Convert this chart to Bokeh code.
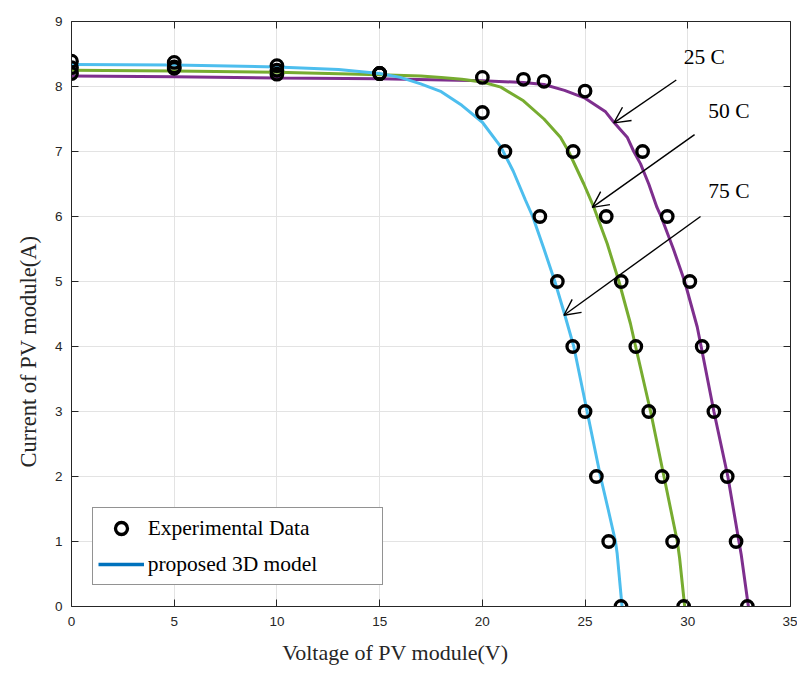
from bokeh.plotting import figure
from bokeh.models import (Range1d, LinearAxis, FixedTicker, Legend, LegendItem,
                          Arrow, OpenHead, Label, Title)
from bokeh.embed import file_html
from bokeh.resources import INLINE

# ---- data ----
x_ticks = [0, 5, 10, 15, 20, 25, 30, 35]
y_ticks = [0, 1, 2, 3, 4, 5, 6, 7, 8, 9]

# model curves (proposed 3D model)
curve_v_25 = [0, 5, 10, 15, 20, 22, 23, 24, 25, 26, 26.4, 27.05, 27.37, 27.7, 28.1, 28.5,
              28.7, 29.3, 29.85, 30.46, 30.65, 31.27, 31.95, 32.49, 32.6, 32.95]
curve_i_25 = [8.16, 8.15, 8.13, 8.12, 8.09, 8.06, 8.03, 7.94, 7.82, 7.61, 7.45, 7.22,
              7.0, 6.81, 6.5, 6.14, 6.0, 5.5, 5.0, 4.3, 4.0, 3.0, 2.0, 1.0, 0.8, 0.0]

curve_v_50 = [0, 5, 10, 15, 17, 18, 19, 20, 20.9, 22.0, 23.0, 23.8, 24.2, 24.94, 25.43,
              25.59, 26.08, 26.65, 27.21, 27.46, 28.19, 28.84, 29.49, 29.6, 29.85]
curve_i_50 = [8.25, 8.24, 8.22, 8.18, 8.16, 8.14, 8.11, 8.07, 7.99, 7.78, 7.5, 7.22, 7.0,
              6.5, 6.14, 6.0, 5.58, 5.0, 4.35, 4.0, 3.0, 2.0, 1.0, 0.75, 0.0]

curve_v_75 = [0, 5, 10, 13, 15, 16, 17, 18, 19, 20, 20.9, 21.5, 22.1, 22.45, 23.0, 23.53,
              24.0, 24.45, 25.1, 25.75, 26.12, 26.48, 26.56, 26.8]
curve_i_75 = [8.34, 8.33, 8.30, 8.26, 8.20, 8.14, 8.04, 7.92, 7.71, 7.45, 7.07, 6.7, 6.25,
              6.0, 5.5, 5.0, 4.5, 4.0, 3.0, 2.0, 1.5, 1.0, 0.82, 0.0]

# experimental data
exp_v_25 = [0, 5, 10, 15, 22, 23, 25, 27.8, 29.0, 30.1, 30.7, 31.27, 31.92, 32.35, 32.9]
exp_i_25 = [8.2, 8.28, 8.19, 8.2, 8.11, 8.08, 7.93, 7, 6, 5, 4, 3, 2, 1, 0]
exp_v_50 = [0, 5, 10, 15, 20, 24.42, 26.03, 26.76, 27.47, 28.1, 28.75, 29.26, 29.8]
exp_i_50 = [8.29, 8.3, 8.25, 8.2, 8.14, 7, 6, 5, 4, 3, 2, 1, 0]
exp_v_75 = [0, 5, 10, 15, 20, 21.1, 22.8, 23.65, 24.4, 25.0, 25.55, 26.15, 26.75]
exp_i_75 = [8.39, 8.37, 8.32, 8.2, 7.6, 7, 6, 5, 4, 3, 2, 1, 0]

# annotations
temp_labels = ["25 C", "50 C", "75 C"]
label_v = [29.8, 31.0, 31.0]
label_i = [8.46, 7.62, 6.39]
arrow_tail_v = [29.44, 30.33, 30.62]
arrow_tail_i = [8.10, 7.26, 6.00]
arrow_head_v = [26.40, 25.35, 23.97]
arrow_head_i = [7.44, 6.14, 4.48]

x_title = "Voltage of PV module(V)"
y_title = "Current of PV module(A)"

# ---- styles ----
PURPLE = "#7E2F8E"
GREEN = "#77AC30"
CYAN = "#4DBEEE"
BLUE = "#0072BD"
AXC = "#262626"
SERIF = "Liberation Serif"
SANS = "Liberation Sans"

p = figure(width=797, height=675, output_backend="svg", toolbar_location=None,
           x_range=Range1d(0, 35), y_range=Range1d(0, 9),
           min_border_left=71, min_border_right=7, min_border_top=21,
           min_border_bottom=69, background_fill_color="white",
           border_fill_color="white", outline_line_color=None)

for ax in (p.xaxis[0], p.yaxis[0]):
    ax.major_tick_in = 7
    ax.major_tick_out = 0
    ax.minor_tick_line_color = None
    ax.axis_line_color = AXC
    ax.major_tick_line_color = AXC
    ax.major_label_text_color = AXC
    ax.major_label_text_font = SANS
    ax.major_label_text_font_size = "13.5px"

p.xaxis[0].ticker = FixedTicker(ticks=x_ticks)
p.yaxis[0].ticker = FixedTicker(ticks=y_ticks)
p.xaxis[0].major_label_standoff = 10
p.yaxis[0].major_label_standoff = 9

top_ax = LinearAxis(ticker=FixedTicker(ticks=x_ticks))
right_ax = LinearAxis(ticker=FixedTicker(ticks=y_ticks))
for ax in (top_ax, right_ax):
    ax.major_tick_in = 7
    ax.major_tick_out = 0
    ax.minor_tick_line_color = None
    ax.axis_line_color = AXC
    ax.major_tick_line_color = AXC
    ax.major_label_text_font_size = "0px"
    ax.major_label_text_color = None
    ax.major_label_standoff = 0
p.add_layout(top_ax, "above")
p.add_layout(right_ax, "right")

# axis titles, offset toward the origin as in the original
p.add_layout(Title(text=x_title, align="left", offset=210.7, standoff=18,
                   text_font=SERIF, text_font_size="22px", text_font_style="normal",
                   text_color=AXC), "below")
p.add_layout(Title(text=y_title, align="left", offset=139, standoff=22,
                   text_font=SERIF, text_font_size="22.5px", text_font_style="normal",
                   text_color=AXC), "left")

p.xgrid.ticker = FixedTicker(ticks=x_ticks)
p.ygrid.ticker = FixedTicker(ticks=y_ticks)
p.xgrid.grid_line_color = "#e3e3e3"
p.ygrid.grid_line_color = "#e3e3e3"

# model curves
p.line(curve_v_25, curve_i_25, line_color=PURPLE, line_width=3)
p.line(curve_v_50, curve_i_50, line_color=GREEN, line_width=3)
p.line(curve_v_75, curve_i_75, line_color=CYAN, line_width=3)

# experimental points
exp_renderers = []
for vv, ii in ((exp_v_25, exp_i_25), (exp_v_50, exp_i_50), (exp_v_75, exp_i_75)):
    r = p.scatter(vv, ii, marker="circle", size=11.5, fill_color=None,
                  line_color="black", line_width=3.3)
    exp_renderers.append(r)

# single-point renderer (draws nothing) that gives the legend its line sample
model_legend = p.line(curve_v_25[:1], curve_i_25[:1], line_color=BLUE, line_width=3.5)

for k in range(3):
    p.add_layout(Arrow(end=OpenHead(size=16, line_width=1.4, line_color="black"),
                       x_start=arrow_tail_v[k], y_start=arrow_tail_i[k],
                       x_end=arrow_head_v[k], y_end=arrow_head_i[k],
                       line_width=1.4, line_color="black"))
    p.add_layout(Label(x=label_v[k], y=label_i[k], text=temp_labels[k],
                       text_font=SERIF, text_font_size="21.5px",
                       text_baseline="alphabetic", text_color="black"))

legend = Legend(items=[LegendItem(label="Experimental Data", renderers=[exp_renderers[0]]),
                       LegendItem(label="proposed 3D model", renderers=[model_legend])],
                location=(20.7, 21), orientation="vertical",
                glyph_width=46, glyph_height=30, spacing=6, padding=5,
                label_standoff=4, label_width=229, margin=0,
                label_text_font=SERIF, label_text_font_size="21.5px",
                label_text_color="black", border_line_color=AXC,
                border_line_width=1, background_fill_color="white",
                background_fill_alpha=1.0)
p.add_layout(legend, "center")

open("out.html", "w").write(file_html(p, INLINE))
